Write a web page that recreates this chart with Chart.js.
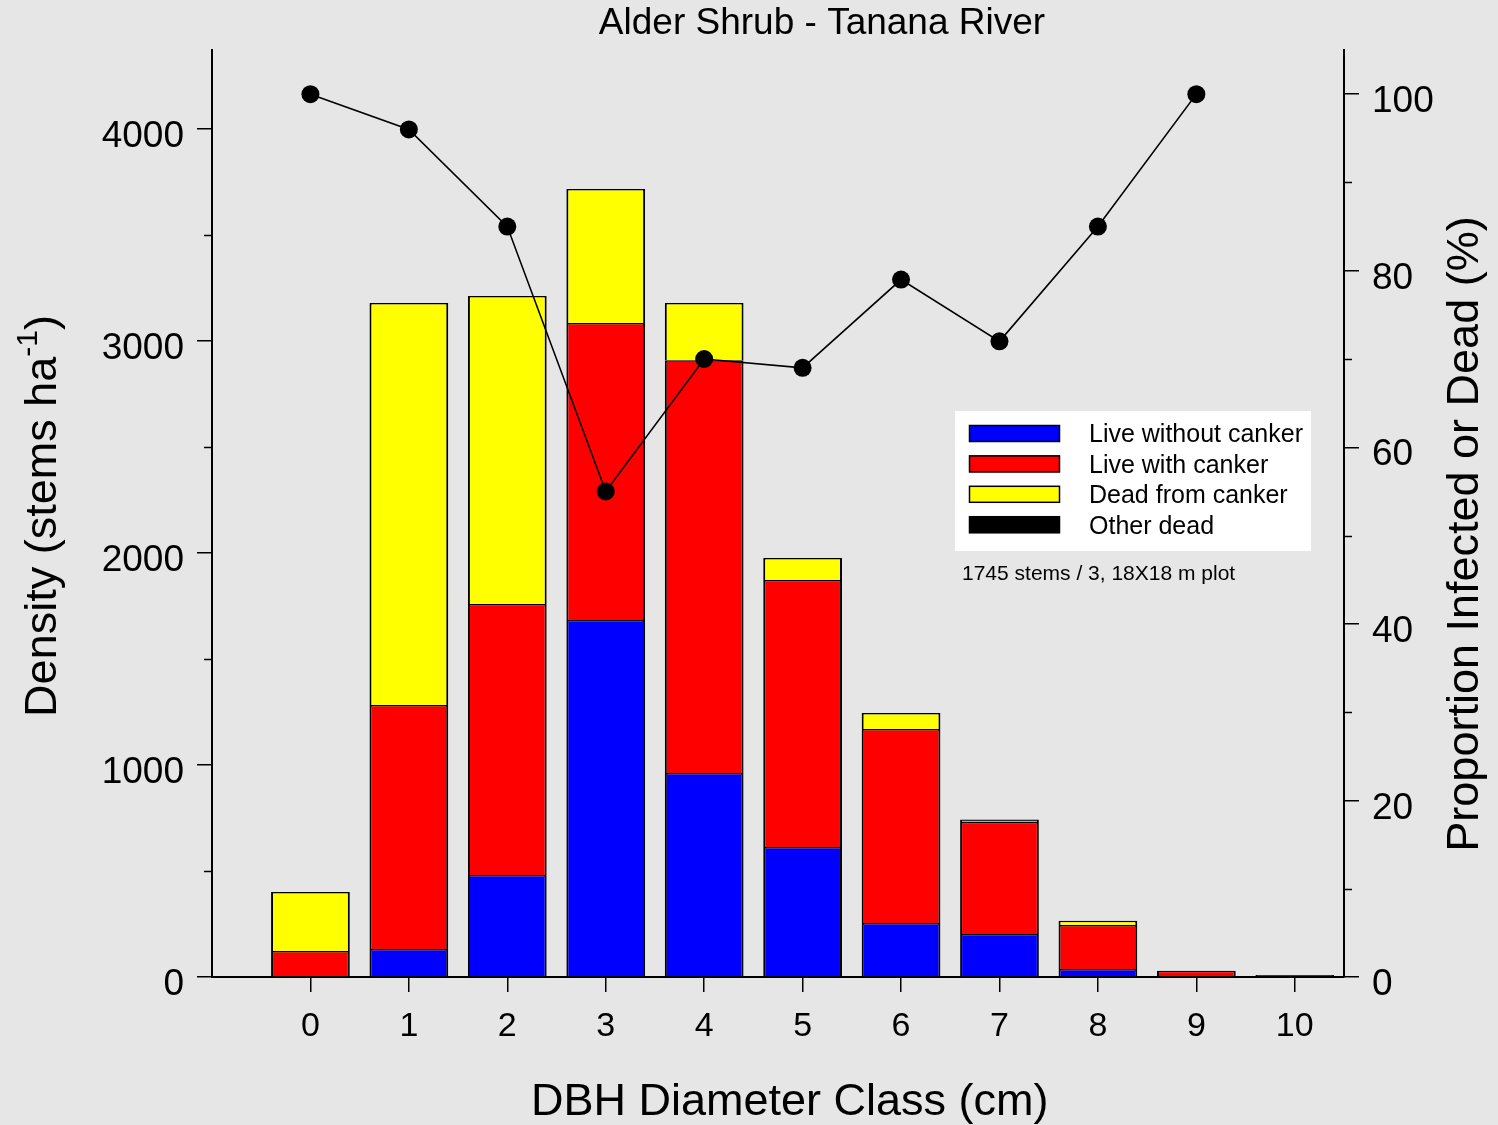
<!DOCTYPE html>
<html>
<head>
<meta charset="utf-8">
<script src="https://cdn.jsdelivr.net/npm/chart.js@4"></script>
<style>
html,body{margin:0;padding:0;background:#e6e6e6;}
#wrap{width:1498px;height:1125px;position:relative;}
</style>
</head>
<body>
<div id="wrap"><canvas id="c" width="1498" height="1125"></canvas></div>
<script>
// ---- data ----
const diameterClasses = [0, 1, 2, 3, 4, 5, 6, 7, 8, 9, 10];
const liveWithoutCanker = [0, 132, 481, 1684, 962, 613, 255, 203, 38, 0, 0];
const liveWithCanker    = [123, 1151, 1278, 1401, 1948, 1260, 915, 528, 207, 30, 0];
const deadFromCanker    = [278, 1896, 1453, 632, 269, 103, 75, 5, 20, 0, 0];
const otherDead         = [0, 0, 0, 0, 0, 0, 0, 7, 0, 0, 10];
const proportionClasses = [0, 1, 2, 3, 4, 5, 6, 7, 8, 9];
const proportionInfectedOrDead = [100, 96, 85, 55, 70, 69, 79, 72, 85, 100];
const seriesLabels = ['Live without canker', 'Live with canker', 'Dead from canker', 'Other dead'];
const seriesColors = ['#0000ff', '#ff0000', '#ffff00', '#000000'];
const densityTicks = [0, 1000, 2000, 3000, 4000];
const densityMinorTicks = [500, 1500, 2500, 3500];
const percentTicks = [0, 20, 40, 60, 80, 100];
const percentMinorTicks = [10, 30, 50, 70, 90];
const xTicks = [0, 1, 2, 3, 4, 5, 6, 7, 8, 9, 10];
const titleText = 'Alder Shrub - Tanana River';
const xTitle = 'DBH Diameter Class (cm)';
const yTitleMain = 'Density (stems ha';
const yTitleSup = '-1';
const yTitleEnd = ')';
const y1Title = 'Proportion Infected or Dead (%)';
const noteText = '1745 stems / 3, 18X18 m plot';

const FONT = '"Liberation Sans", Arial, Helvetica, sans-serif';

const toXY = (xs, ys) => xs.map((x, i) => ({x: x, y: ys[i]}));
const barSeries = [liveWithoutCanker, liveWithCanker, deadFromCanker, otherDead];

const datasets = barSeries.map((vals, i) => ({
  type: 'bar',
  label: seriesLabels[i],
  data: toXY(diameterClasses, vals),
  backgroundColor: seriesColors[i],
  borderColor: '#000000',
  borderWidth: {top: 1.5, left: 2, right: 2, bottom: 0},
  stack: 's',
  yAxisID: 'y',
  xAxisID: 'x',
  order: 2,
  categoryPercentage: 0.8,
  barPercentage: 1.0
}));
datasets.push({
  type: 'line',
  label: 'Proportion',
  data: toXY(proportionClasses, proportionInfectedOrDead),
  borderColor: '#000000',
  backgroundColor: '#000000',
  borderWidth: 1.6,
  pointRadius: 9,
  pointBackgroundColor: '#000000',
  pointBorderWidth: 0,
  yAxisID: 'y1',
  xAxisID: 'x',
  order: 0,
  tension: 0
});

const decorPlugin = {
  id: 'decor',
  beforeDraw(chart) {
    const ctx = chart.ctx;
    ctx.save();
    ctx.fillStyle = '#e6e6e6';
    ctx.fillRect(0, 0, chart.width, chart.height);
    ctx.restore();
  },
  afterDraw(chart) {
    const ctx = chart.ctx;
    const ys = chart.scales.y, y1s = chart.scales.y1;
    ctx.save();
    // minor ticks
    ctx.strokeStyle = '#000';
    ctx.lineWidth = 1.5;
    densityMinorTicks.forEach(v => {
      const p = Math.round(ys.getPixelForValue(v)) + 0.5;
      ctx.beginPath(); ctx.moveTo(ys.right, p); ctx.lineTo(ys.right - 8, p); ctx.stroke();
    });
    percentMinorTicks.forEach(v => {
      const p = Math.round(y1s.getPixelForValue(v)) + 0.5;
      ctx.beginPath(); ctx.moveTo(y1s.left, p); ctx.lineTo(y1s.left + 8, p); ctx.stroke();
    });
    // title
    ctx.fillStyle = '#000';
    ctx.font = '37px ' + FONT;
    ctx.textAlign = 'center';
    ctx.textBaseline = 'alphabetic';
    ctx.fillText(titleText, 822, 34);
    // x title
    ctx.font = '45px ' + FONT;
    ctx.textAlign = 'left';
    ctx.fillText(xTitle, 531, 1115);
    // left y title (rotated, with superscript)
    ctx.save();
    ctx.translate(56, 516);
    ctx.rotate(-Math.PI / 2);
    ctx.font = '45px ' + FONT;
    const w1 = ctx.measureText(yTitleMain).width;
    const w3 = ctx.measureText(yTitleEnd).width;
    ctx.font = '30px ' + FONT;
    const w2 = ctx.measureText(yTitleSup).width;
    let x0 = -(w1 + w2 + w3) / 2;
    ctx.textAlign = 'left';
    ctx.font = '45px ' + FONT;
    ctx.fillText(yTitleMain, x0, 0);
    ctx.font = '30px ' + FONT;
    ctx.fillText(yTitleSup, x0 + w1, -19);
    ctx.font = '45px ' + FONT;
    ctx.fillText(yTitleEnd, x0 + w1 + w2, 0);
    ctx.restore();
    // right y title
    ctx.save();
    ctx.translate(1478, 534);
    ctx.rotate(-Math.PI / 2);
    ctx.font = '45px ' + FONT;
    ctx.textAlign = 'center';
    ctx.fillText(y1Title, 0, 0);
    ctx.restore();
    // legend
    ctx.fillStyle = '#ffffff';
    ctx.fillRect(955, 411, 356, 140);
    seriesLabels.forEach((lab, i) => {
      const cy = 433.5 + i * 30.4;
      ctx.fillStyle = seriesColors[i];
      ctx.fillRect(969, cy - 8.5, 91, 17);
      ctx.strokeStyle = '#000';
      ctx.lineWidth = 1.5;
      ctx.strokeRect(969.5, cy - 8, 90, 16);
      ctx.fillStyle = '#000';
      ctx.font = '25px ' + FONT;
      ctx.textAlign = 'left';
      ctx.textBaseline = 'middle';
      ctx.fillText(lab, 1089, cy + 2);
    });
    // note
    ctx.font = '21px ' + FONT;
    ctx.textBaseline = 'middle';
    ctx.fillText(noteText, 962, 574);
    ctx.restore();
  }
};

new Chart(document.getElementById('c'), {
  data: {datasets: datasets},
  options: {
    responsive: false,
    animation: false,
    devicePixelRatio: 1,
    layout: {padding: {top: 50, left: 0, right: 0, bottom: 0}},
    plugins: {legend: {display: false}, title: {display: false}, tooltip: {enabled: false}},
    scales: {
      x: {
        type: 'linear',
        position: 'bottom',
        min: -1,
        max: 10.5,
        offset: false,
        stacked: true,
        afterBuildTicks: s => { s.ticks = xTicks.map(v => ({value: v})); },
        afterFit: s => { s.height = 148; },
        grid: {offset: false, drawOnChartArea: false, display: true, color: '#000', lineWidth: 1.5, tickLength: 15},
        border: {display: true, color: '#000', width: 2},
        ticks: {color: '#000', font: {family: FONT, size: 34, lineHeight: 1}, padding: 18, maxRotation: 0, autoSkip: false, callback: v => String(v)},
        title: {display: false}
      },
      y: {
        type: 'linear',
        position: 'left',
        min: 0,
        max: 4373,
        stacked: true,
        afterBuildTicks: s => { s.ticks = densityTicks.map(v => ({value: v})); },
        afterFit: s => { s.width = 212; },
        grid: {drawOnChartArea: false, display: true, color: '#000', lineWidth: 1.5, tickLength: 15},
        border: {display: true, color: '#000', width: 2},
        ticks: {color: '#000', font: {family: FONT, size: 37}, padding: 13, labelOffset: 8, callback: v => String(v)},
        title: {display: false}
      },
      y1: {
        type: 'linear',
        position: 'right',
        min: 0,
        max: 105,
        afterBuildTicks: s => { s.ticks = percentTicks.map(v => ({value: v})); },
        afterFit: s => { s.width = 154; },
        grid: {drawOnChartArea: false, display: true, color: '#000', lineWidth: 1.5, tickLength: 15},
        border: {display: true, color: '#000', width: 2},
        ticks: {color: '#000', font: {family: FONT, size: 37}, padding: 13, labelOffset: 8, callback: v => String(v)},
        title: {display: false}
      }
    }
  },
  plugins: [decorPlugin]
});
</script>
</body>
</html>
